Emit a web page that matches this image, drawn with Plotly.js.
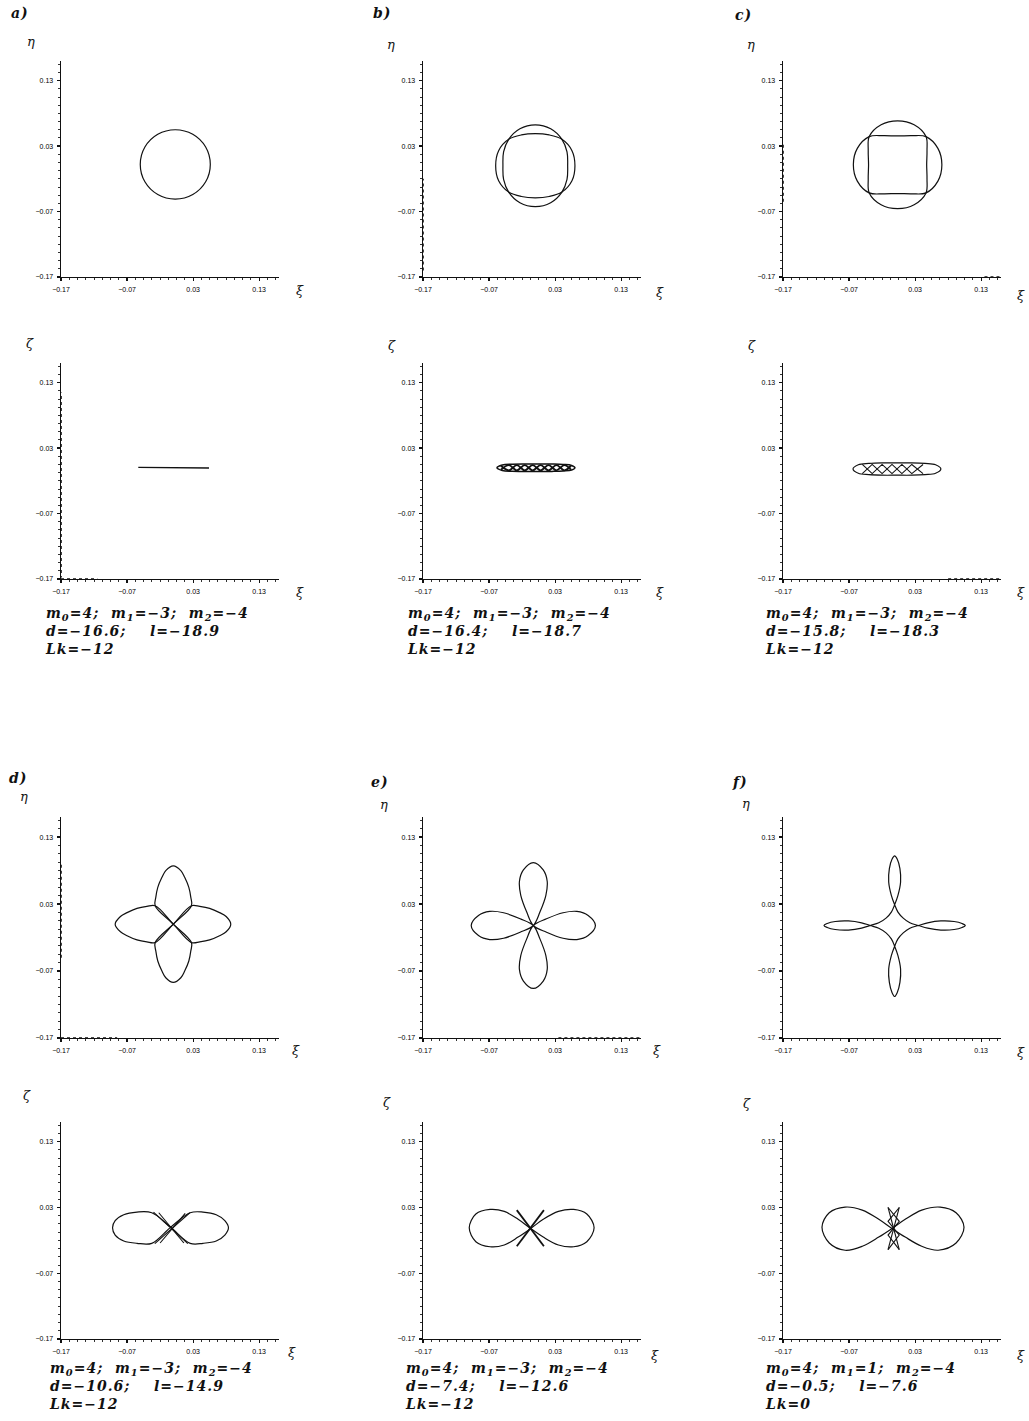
<!DOCTYPE html>
<html><head><meta charset="utf-8">
<script src="https://cdn.plot.ly/plotly-3.0.1.min.js"></script>
<style>html,body{margin:0;padding:0;background:#fff;}#chart{width:1029px;height:1421px;}
.annotation-text{letter-spacing:1px;}</style>
</head><body><div id="chart"></div>
<script>
// ---------- tick labels ----------
const tickVals = [-0.17, -0.07, 0.03, 0.13];
const tickText = ['−0.17', '−0.07', '0.03', '0.13'];

// ---------- panel a ----------
const aEtaX = [0.056, 0.049, 0.0295, 0.003, -0.0235, -0.043, -0.050, -0.043, -0.0235, 0.003, 0.0295, 0.049, 0.056];
const aEtaY = [0.002, 0.0285, 0.048, 0.055, 0.048, 0.0285, 0.002, -0.0245, -0.044, -0.051, -0.044, -0.0245, 0.002];
const aZetaX = [-0.053, 0.0, 0.054];
const aZetaY = [0.0005, 0.0, -0.0005];

// ---------- panel b ----------
const bEtaHX = [0.060, 0.0555, 0.0403, 0.021, 0, -0.021, -0.0403, -0.0555, -0.060, -0.0555, -0.0403, -0.021, 0, 0.021, 0.0403, 0.0555, 0.060];
const bEtaHY = [0, 0.023, 0.0403, 0.047, 0.049, 0.047, 0.0403, 0.023, 0, -0.023, -0.0403, -0.047, -0.049, -0.047, -0.0403, -0.023, 0];
const bEtaVX = [0.049, 0.048, 0.0403, 0.0233, 0, -0.0233, -0.0403, -0.048, -0.049, -0.048, -0.0403, -0.0233, 0, 0.0233, 0.0403, 0.048, 0.049];
const bEtaVY = [0, 0.021, 0.0403, 0.0565, 0.0625, 0.0565, 0.0403, 0.021, 0, -0.021, -0.0403, -0.0565, -0.0625, -0.0565, -0.0403, -0.021, 0];
const bZetaOuterX = [-0.058, -0.05, -0.035, -0.015, 0.005, 0.025, 0.042, 0.055, 0.060, 0.055, 0.042, 0.025, 0.005, -0.015, -0.035, -0.05, -0.058];
const bZetaOuterY = [0, 0.0042, 0.0055, 0.0058, 0.0058, 0.0056, 0.005, 0.0035, 0, -0.0035, -0.005, -0.0056, -0.0058, -0.0058, -0.0055, -0.0042, 0];
const bStrandX = [-0.052, -0.04, -0.028, -0.016, -0.004, 0.008, 0.020, 0.032, 0.044, 0.054];
const bStrandAY = [0.003, -0.004, 0.004, -0.004, 0.004, -0.004, 0.004, -0.004, 0.004, -0.003];
const bStrandBY = [-0.003, 0.004, -0.004, 0.004, -0.004, 0.004, -0.004, 0.004, -0.004, 0.003];

// ---------- panel c ----------
const cEtaVX = [0.0475, 0.048, 0.0465, 0.0285, 0.0035, -0.0215, -0.0395, -0.041, -0.0405, -0.041, -0.0395, -0.0215, 0.0035, 0.0285, 0.0465, 0.048, 0.0475];
const cEtaVY = [0.0015, 0.0235, 0.0445, 0.0625, 0.0685, 0.0625, 0.0445, 0.0235, 0.0015, -0.0205, -0.0415, -0.0595, -0.0655, -0.0595, -0.0415, -0.0205, 0.0015];
const cEtaHX = [0.0705, 0.0645, 0.0465, 0.0255, 0.0035, -0.0185, -0.0395, -0.0575, -0.0635, -0.0575, -0.0395, -0.0185, 0.0035, 0.0255, 0.0465, 0.0645, 0.0705];
const cEtaHY = [0.0015, 0.0265, 0.0445, 0.046, 0.0455, 0.046, 0.0445, 0.0265, 0.0015, -0.0235, -0.0415, -0.043, -0.0425, -0.043, -0.0415, -0.0235, 0.0015];
const cZetaOuterX = [-0.064, -0.056, -0.04, -0.02, 0.0025, 0.025, 0.045, 0.061, 0.069, 0.061, 0.045, 0.025, 0.0025, -0.02, -0.04, -0.056, -0.064];
const cZetaOuterY = [-0.002, 0.0045, 0.0065, 0.0074, 0.0074, 0.0074, 0.0065, 0.0045, -0.002, -0.0085, -0.0105, -0.0114, -0.0114, -0.0114, -0.0105, -0.0085, -0.002];
const cStrandX = [-0.050, -0.035, -0.020, -0.005, 0.010, 0.025, 0.042];
const cStrandAY = [0.005, -0.009, 0.005, -0.009, 0.005, -0.009, 0.005];
const cStrandBY = [-0.009, 0.005, -0.009, 0.005, -0.009, 0.005, -0.009];

// ---------- panel d ----------
const dEtaHX = [0, 0.0275, 0.04, 0.055, 0.07, 0.08, 0.087, 0.08, 0.07, 0.055, 0.04, 0.0275, 0, -0.0275, -0.04, -0.055, -0.07, -0.08, -0.088, -0.08, -0.07, -0.055, -0.04, -0.0275, 0];
const dEtaHY = [0, 0.0275, 0.0265, 0.0235, 0.0172, 0.0114, 0, -0.0114, -0.0172, -0.0235, -0.0265, -0.0275, 0, 0.0275, 0.0265, 0.0235, 0.0172, 0.0114, 0, -0.0114, -0.0172, -0.0235, -0.0265, -0.0275, 0];
const dEtaVX = [0, 0.0275, 0.0265, 0.0235, 0.0172, 0.0114, 0, -0.0114, -0.0172, -0.0235, -0.0265, -0.0275, 0, 0.0275, 0.0265, 0.0235, 0.0172, 0.0114, 0, -0.0114, -0.0172, -0.0235, -0.0265, -0.0275, 0];
const dEtaVY = [0, 0.0275, 0.04, 0.055, 0.07, 0.08, 0.087, 0.08, 0.07, 0.055, 0.04, 0.0275, 0, -0.0275, -0.04, -0.055, -0.07, -0.08, -0.087, -0.08, -0.07, -0.055, -0.04, -0.0275, 0];
const dZetaX = [-0.004, 0.0255, 0.045, 0.065, 0.078, 0.0835, 0.078, 0.065, 0.045, 0.0255, -0.004, -0.0326, -0.055, -0.075, -0.088, -0.092, -0.088, -0.075, -0.055, -0.0326, -0.004];
const dZetaY = [0.0, 0.022, 0.023, 0.019, 0.01, -0.001, -0.012, -0.021, -0.0245, -0.0245, 0.0, 0.022, 0.023, 0.019, 0.01, -0.001, -0.012, -0.021, -0.0245, -0.0245, 0.0];
const dStrandX = [-0.030, 0.022, null, -0.028, 0.025, null, -0.022, 0.016, null, -0.020, 0.018];
const dStrandY = [0.023, -0.025, null, -0.025, 0.022, null, 0.022, -0.024, null, -0.024, 0.021];

// ---------- panel e ----------
const eEtaX = [-0.003, 0.007, 0.016, 0.018, 0.012, -0.003, -0.018, -0.024, -0.022, -0.013, -0.003, 0.017, 0.042, 0.063, 0.080, 0.091, 0.080, 0.063, 0.042, 0.017, -0.003, -0.013, -0.022, -0.024, -0.018, -0.003, 0.012, 0.018, 0.016, 0.007, -0.003, -0.023, -0.048, -0.069, -0.086, -0.097, -0.086, -0.069, -0.048, -0.023, -0.003];
const eEtaY = [-0.002, 0.018, 0.043, 0.064, 0.081, 0.092, 0.081, 0.064, 0.043, 0.018, -0.002, -0.012, -0.021, -0.023, -0.017, -0.002, 0.013, 0.019, 0.017, 0.008, -0.002, -0.022, -0.047, -0.068, -0.085, -0.096, -0.085, -0.068, -0.047, -0.022, -0.002, 0.008, 0.017, 0.019, 0.013, -0.002, -0.017, -0.023, -0.021, -0.012, -0.002];
const eZetaX = [-0.007, 0.012, 0.035, 0.058, 0.078, 0.089, 0.078, 0.058, 0.035, 0.012, -0.007, -0.026, -0.047, -0.0685, -0.09, -0.1, -0.09, -0.0685, -0.047, -0.026, -0.007];
const eZetaY = [-0.002, 0.012, 0.024, 0.027, 0.02, -0.001, -0.022, -0.0297, -0.027, -0.015, -0.002, 0.012, 0.024, 0.027, 0.02, -0.001, -0.022, -0.0297, -0.027, -0.015, -0.002];
const eStrokeX = [-0.028, 0.013, null, 0.013, -0.028];
const eStrokeY = [0.026, -0.029, null, 0.026, -0.029];

// ---------- panel f ----------
const fEtaX = [-0.001, -0.006, -0.010, -0.009, -0.005, -0.001, 0.003, 0.007, 0.008, 0.004, -0.001,
  -0.006, -0.014, -0.025, -0.038,
  -0.051, -0.071, -0.091, -0.103, -0.108, -0.103, -0.091, -0.071, -0.051, -0.038,
  -0.025, -0.014, -0.006, -0.001,
  0.004, 0.008, 0.007, 0.003, -0.001, -0.005, -0.009, -0.010, -0.006, -0.001,
  0.004, 0.012, 0.022, 0.035,
  0.049, 0.069, 0.089, 0.101, 0.106, 0.101, 0.089, 0.069, 0.049, 0.035,
  0.022, 0.012, 0.004, -0.001];
const fEtaY = [0.029, 0.043, 0.063, 0.083, 0.097, 0.102, 0.097, 0.083, 0.063, 0.043, 0.029,
  0.018, 0.009, 0.002, -0.002,
  -0.006, -0.0088, -0.008, -0.005, -0.002, 0.001, 0.004, 0.0048, 0.002, -0.002,
  -0.006, -0.013, -0.022, -0.033,
  -0.047, -0.067, -0.087, -0.102, -0.108, -0.102, -0.087, -0.067, -0.047, -0.033,
  -0.022, -0.013, -0.006, -0.002,
  0.002, 0.0048, 0.004, 0.001, -0.002, -0.005, -0.008, -0.0088, -0.006, -0.002,
  0.002, 0.009, 0.018, 0.029];
const fZetaX = [-0.005, 0.015, 0.04, 0.068, 0.092, 0.104, 0.092, 0.065, 0.04, 0.015, -0.005, -0.025, -0.05, -0.076, -0.1, -0.111, -0.1, -0.076, -0.05, -0.025, -0.005];
const fZetaY = [-0.002, 0.012, 0.026, 0.0306, 0.022, 0.0, -0.024, -0.035, -0.029, -0.015, -0.002, 0.012, 0.026, 0.0306, 0.022, 0.0, -0.024, -0.035, -0.029, -0.015, -0.002];
const fBraidX = [-0.011, 0.006, -0.011, 0.006, null, 0.006, -0.011, 0.006, -0.011, null, -0.011, 0.006, null, 0.006, -0.011];
const fBraidY = [0.030, 0.009, -0.012, -0.034, null, 0.030, 0.009, -0.012, -0.034, null, 0.030, -0.034, null, 0.030, -0.034];

// ---------- texts ----------
const panelLabels = ['a)', 'b)', 'c)', 'd)', 'e)', 'f)'];
const paramLine1 = [
  'm<sub>0</sub>=4;\u00a0\u00a0m<sub>1</sub>=−3;\u00a0\u00a0m<sub>2</sub>=−4',
  'm<sub>0</sub>=4;\u00a0\u00a0m<sub>1</sub>=−3;\u00a0\u00a0m<sub>2</sub>=−4',
  'm<sub>0</sub>=4;\u00a0\u00a0m<sub>1</sub>=−3;\u00a0\u00a0m<sub>2</sub>=−4',
  'm<sub>0</sub>=4;\u00a0\u00a0m<sub>1</sub>=−3;\u00a0\u00a0m<sub>2</sub>=−4',
  'm<sub>0</sub>=4;\u00a0\u00a0m<sub>1</sub>=−3;\u00a0\u00a0m<sub>2</sub>=−4',
  'm<sub>0</sub>=4;\u00a0\u00a0m<sub>1</sub>=1;\u00a0\u00a0m<sub>2</sub>=−4'];
const paramLine2 = [
  'd=−16.6;\u00a0\u00a0\u00a0\u00a0l=−18.9',
  'd=−16.4;\u00a0\u00a0\u00a0\u00a0l=−18.7',
  'd=−15.8;\u00a0\u00a0\u00a0\u00a0l=−18.3',
  'd=−10.6;\u00a0\u00a0\u00a0\u00a0l=−14.9',
  'd=−7.4;\u00a0\u00a0\u00a0\u00a0l=−12.6',
  'd=−0.5;\u00a0\u00a0\u00a0\u00a0l=−7.6'];
const paramLine3 = ['Lk=−12', 'Lk=−12', 'Lk=−12', 'Lk=−12', 'Lk=−12', 'Lk=0'];

// ---------- layout geometry ----------
const W = 1029, H = 1421;
const colPx = [[61, 279], [423, 641], [783, 1001]];
const rowPx = [[61, 277], [363, 579], [817, 1038], [1122, 1339]];
const INK = '#111';

const layout = {
  width: W, height: H, margin: {l: 0, r: 0, t: 0, b: 0},
  paper_bgcolor: '#fff', plot_bgcolor: 'rgba(0,0,0,0)',
  showlegend: false, annotations: [], shapes: []
};
function axisBase() {
  return {
    range: [-0.17, 0.16], showline: true, linecolor: INK, linewidth: 1.4,
    showgrid: false, zeroline: false, fixedrange: true,
    tickmode: 'array', tickvals: tickVals, ticktext: tickText,
    ticks: 'outside', ticklen: 3, tickwidth: 1.2, tickcolor: INK,
    ticklabelstandoff: 2,
    tickfont: {family: 'Liberation Sans', size: 7, color: '#000'},
    minor: {tickmode: 'linear', tick0: -0.17, dtick: 0.0125, ticks: 'outside', ticklen: 2, tickwidth: 1, tickcolor: '#333', showgrid: false}
  };
}
for (let r = 0; r < 4; r++) {
  for (let c = 0; c < 3; c++) {
    const k = r * 3 + c + 1;
    const s = k === 1 ? '' : String(k);
    const xa = axisBase();
    xa.domain = [colPx[c][0] / W, colPx[c][1] / W];
    xa.anchor = 'y' + s;
    const ya = axisBase();
    ya.domain = [1 - rowPx[r][1] / H, 1 - rowPx[r][0] / H];
    ya.anchor = 'x' + s;
    layout['xaxis' + s] = xa;
    layout['yaxis' + s] = ya;
  }
}

// dotted stretches of the (scanned) axis lines: [subplot, axis, from, to]
const dottedAxisParts = [[4, 'y', -0.17, 0.115], [4, 'x', -0.17, -0.115], [2, 'y', -0.16, -0.02],
  [3, 'y', -0.055, 0.035], [7, 'y', -0.05, 0.09], [7, 'x', -0.17, -0.085], [8, 'x', 0.035, 0.16],
  [6, 'x', 0.08, 0.16], [3, 'x', 0.135, 0.16]];
dottedAxisParts.forEach(p => {
  const s = p[0] === 1 ? '' : String(p[0]);
  let seg;
  if (p[1] === 'y') seg = {xref: 'x' + s, yref: 'y' + s, x0: -0.17, x1: -0.17, y0: p[2], y1: p[3]};
  else seg = {xref: 'x' + s, yref: 'y' + s, y0: -0.17, y1: -0.17, x0: p[2], x1: p[3]};
  layout.shapes.push(Object.assign({type: 'line', line: {color: '#fff', width: 3}}, seg));
  layout.shapes.push(Object.assign({type: 'line', line: {color: INK, width: 1.6, dash: 'dot'}}, seg));
});

// ---------- traces ----------
const traces = [];
function line(k, x, y, shape, width) {
  const s = k === 1 ? '' : String(k);
  traces.push({
    type: 'scatter', mode: 'lines', x: x, y: y, xaxis: 'x' + s, yaxis: 'y' + s,
    line: {color: INK, width: width || 1.2, shape: shape || 'spline', smoothing: 1},
    hoverinfo: 'skip', connectgaps: false
  });
}
line(1, aEtaX, aEtaY);
line(2, bEtaHX, bEtaHY);
line(2, bEtaVX, bEtaVY);
line(3, cEtaVX, cEtaVY);
line(3, cEtaHX, cEtaHY);
line(4, aZetaX, aZetaY, 'linear', 1.4);
line(5, bZetaOuterX, bZetaOuterY, 'spline', 1.5);
line(5, bStrandX, bStrandAY, 'spline', 1.9);
line(5, bStrandX, bStrandBY, 'spline', 1.9);
line(6, cZetaOuterX, cZetaOuterY);
line(6, cStrandX, cStrandAY, 'linear', 1.1);
line(6, cStrandX, cStrandBY, 'linear', 1.1);
line(7, dEtaHX, dEtaHY);
line(7, dEtaVX, dEtaVY);
line(8, eEtaX, eEtaY);
line(9, fEtaX, fEtaY);
line(10, dZetaX, dZetaY);
line(10, dStrandX, dStrandY, 'linear', 1.1);
line(11, eZetaX, eZetaY);
line(11, eStrokeX, eStrokeY, 'linear', 1.8);
line(12, fZetaX, fZetaY);
line(12, fBraidX, fBraidY, 'linear', 1.1);

// ---------- annotations ----------
function ann(text, px, py, o) {
  layout.annotations.push(Object.assign({
    text: text, x: px / W, y: 1 - py / H, xref: 'paper', yref: 'paper',
    showarrow: false, xanchor: 'center', yanchor: 'middle',
    font: {family: 'Liberation Serif', size: 14, color: INK}
  }, o || {}));
}
const letterPos = [[20, 13], [382, 13], [743, 15], [18, 778], [380, 782], [740, 782]];
panelLabels.forEach((t, i) => ann('<b><i>' + t + '</i></b>', letterPos[i][0], letterPos[i][1], {font: {family: 'DejaVu Serif', size: 14, color: INK}}));

const etaPos = [[31, 41], [391, 45], [751, 45], [24, 796], [384, 804], [746, 803]];
const zetaPos = [[30, 343], [392, 345], [752, 345], [27, 1095], [387, 1102], [747, 1103]];
const xiPos = [[300, 290], [660, 292], [1021, 295], [300, 592], [660, 592], [1021, 592],
               [296, 1050], [657, 1050], [1021, 1052], [292, 1352], [655, 1355], [1021, 1355]];
const gf = {family: 'DejaVu Serif', size: 13, color: INK};
etaPos.forEach(p => ann('<i>η</i>', p[0], p[1], {font: gf}));
zetaPos.forEach(p => ann('<i>ζ</i>', p[0], p[1], {font: gf}));
xiPos.forEach(p => ann('<i>ξ</i>', p[0], p[1], {font: gf}));

// parameter blocks, one three-line annotation each
const paramX = [43, 405, 763, 47, 403, 763];
const paramTop = [603, 603, 603, 1358, 1358, 1358];
const pf = {family: 'DejaVu Serif', size: 14, color: INK};
for (let i = 0; i < 6; i++) {
  const txt = '<b><i>' + paramLine1[i] + '<br>' + paramLine2[i] + '<br>' + paramLine3[i] + '</i></b>';
  ann(txt, paramX[i], paramTop[i], {xanchor: 'left', yanchor: 'top', align: 'left', font: pf});
}

Plotly.newPlot('chart', traces, layout, {staticPlot: true, displayModeBar: false});
</script>
</body></html>
